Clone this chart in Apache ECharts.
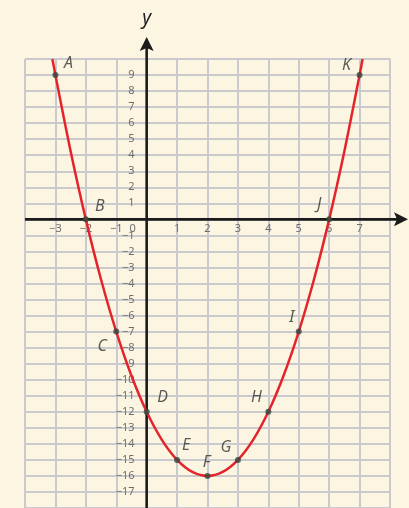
<!DOCTYPE html>
<html>
<head>
<meta charset="utf-8">
<script src="https://cdn.jsdelivr.net/npm/echarts@6/dist/echarts.min.js"></script>
<style>
  html, body { margin: 0; padding: 0; background: #fcf5e2; }
  #chart { width: 409px; height: 508px; }
</style>
</head>
<body>
<div id="chart"></div>
<script>
// Parabola traced through the grid (x, y pairs)
const curveX = [-3.1, -3, -2.5, -2, -1.5, -1, -0.5, 0, 0.5, 1, 1.5, 2, 2.5, 3, 3.5, 4, 4.5, 5, 5.5, 6, 6.5, 7, 7.1];
const curveY = [10, 9, 4.25, 0, -3.75, -7, -9.75, -12, -13.75, -15, -15.75, -16, -15.75, -15, -13.75, -12, -9.75, -7, -3.75, 0, 4.25, 9, 10];

// Named points on the curve
const pointNames = ['A', 'B', 'C', 'D', 'E', 'F', 'G', 'H', 'I', 'J', 'K'];
const pointX = [-3, -2, -1, 0, 1, 2, 3, 4, 5, 6, 7];
const pointY = [9, 0, -7, -12, -15, -16, -15, -12, -7, 0, 9];

// Axis ranges
const xMin = -4, xMax = 8;
const yMin = -18, yMax = 10;

// Where each point letter sits relative to its dot (pixels)
const labelOffsets = [[13, -12], [14, -13], [-14, 15], [16, -14], [9, -14], [-1, -13],
                      [-12, -12], [-12, -14], [-7, -14], [-10, -15], [-13, -10]];

const chart = echarts.init(document.getElementById('chart'), null, { renderer: 'canvas' });

const minus = v => String(v).replace('-', '\u2212');
const gridColor = '#c9c9ce';
const tickColor = '#6e6e6e';

const option = {
  backgroundColor: '#fcf5e2',
  animation: false,
  grid: { left: 25, right: 19, top: 59, bottom: 0, containLabel: false, outerBoundsMode: 'none' },
  xAxis: {
    type: 'value', min: xMin, max: xMax, interval: 1, position: 'bottom', offset: 0,
    axisLine: { show: false, onZero: false },
    axisTick: { show: false },
    axisLabel: {
      interval: 0, margin: 4, color: tickColor, fontSize: 11, fontFamily: 'Noto Sans',
      hideOverlap: false,
      formatter: v => {
        if (v === xMin || v === xMax) return '';
        if (v === 0) return '{o|0}';
        return minus(v);
      },
      rich: { o: { padding: [0, 28, 0, 0], color: tickColor, fontSize: 11, fontFamily: 'Noto Sans' } }
    },
    splitLine: { show: true, lineStyle: { color: gridColor, width: 2 } }
  },
  yAxis: {
    type: 'value', min: yMin, max: yMax, interval: 1, position: 'left', offset: 0,
    axisLine: { show: false, onZero: false },
    axisTick: { show: false },
    axisLabel: {
      interval: 0, margin: 12, color: tickColor, fontSize: 11, fontFamily: 'Noto Sans',
      formatter: v => (v === 0 || v === yMin || v === yMax) ? '' : minus(v)
    },
    splitLine: { show: true, lineStyle: { color: gridColor, width: 2 } }
  },
  series: [
    {
      type: 'line',
      data: curveX.map((x, i) => [x, curveY[i]]),
      smooth: 0.3,
      showSymbol: false,
      lineStyle: { color: '#e4242b', width: 2.5 },
      z: 3
    },
    {
      type: 'scatter',
      data: pointX.map((x, i) => ({
        value: [x, pointY[i]],
        name: pointNames[i],
        label: { offset: labelOffsets[i] }
      })),
      symbolSize: 6,
      itemStyle: { color: '#34473d' },
      label: {
        show: true, position: 'inside', formatter: p => p.name,
        fontStyle: 'italic', fontSize: 16, fontFamily: 'Noto Sans', color: '#333'
      },
      z: 4
    }
  ]
};

chart.setOption(option);

// Move both axes (labels included) onto the origin, and draw the
// axis lines with arrowheads reaching past the grid
const o = chart.convertToPixel({ gridIndex: 0 }, [0, 0]);
const lowLeft = chart.convertToPixel({ gridIndex: 0 }, [xMin, yMin]);
const W = chart.getWidth(), H = chart.getHeight();
const axisStyle = { stroke: '#1b1b1b', lineWidth: 2.6 };
chart.setOption({
  xAxis: { offset: o[1] - lowLeft[1] },
  yAxis: {
    offset: lowLeft[0] - o[0],
    name: 'y', nameLocation: 'end', nameGap: 40,
    nameTextStyle: { fontStyle: 'italic', fontSize: 19, color: '#222', fontFamily: 'Noto Sans', verticalAlign: 'middle' }
  },
  graphic: [
    { type: 'line', z: 1, shape: { x1: lowLeft[0], y1: o[1], x2: W - 8, y2: o[1] }, style: axisStyle },
    { type: 'polygon', z: 1, shape: { points: [[W - 1, o[1]], [W - 15, o[1] - 7], [W - 12, o[1]], [W - 15, o[1] + 7]] }, style: { fill: '#1b1b1b' } },
    { type: 'line', z: 1, shape: { x1: o[0], y1: H, x2: o[0], y2: 45 }, style: axisStyle },
    { type: 'polygon', z: 1, shape: { points: [[o[0], 37], [o[0] - 7, 51], [o[0], 48], [o[0] + 7, 51]] }, style: { fill: '#1b1b1b' } }
  ]
});
</script>
</body>
</html>
